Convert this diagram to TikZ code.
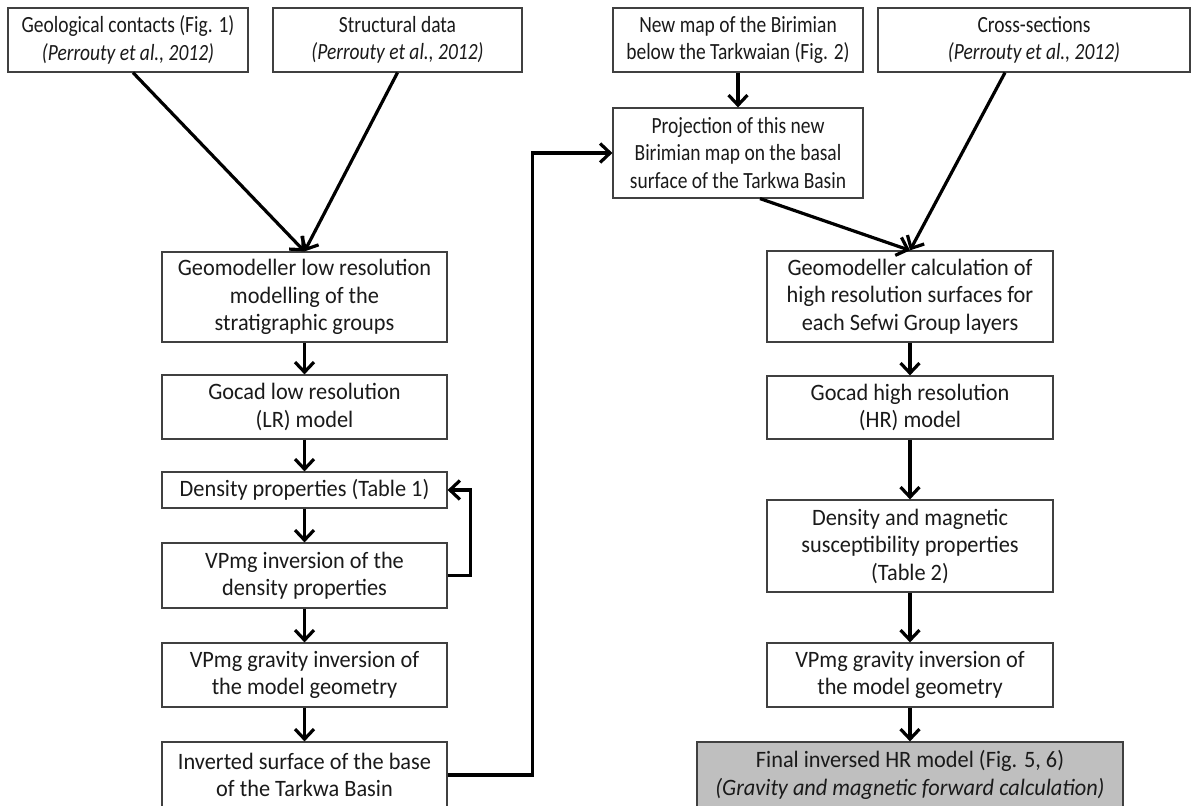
\documentclass[tikz,border=0pt]{standalone}
\usepackage{fontspec}
\setmainfont{Carlito}[FakeStretch=0.95]
\newfontfamily\narrowfont{Carlito}[FakeStretch=0.84]
\usetikzlibrary{arrows.meta,calc}
\definecolor{boxline}{HTML}{404040}
\definecolor{txt}{HTML}{1A1A1A}
\definecolor{finalfill}{HTML}{BFBFBF}
\tikzset{
  box/.style={draw=boxline, line width=1.2pt, fill=white, inner sep=0pt, align=center,
    text=txt, font=\fontsize{23.5}{27.5}\selectfont},
  topbox/.style={box, font=\narrowfont\fontsize{23.2}{27.5}\selectfont},
  lcol/.style={box, minimum width=285pt},
  rcol/.style={box, minimum width=286pt},
  arr/.style={draw=black, line width=3.2pt, -{Straight Barb[length=10pt,width=19pt,line width=3.2pt]}},
}
\begin{document}
\begin{tikzpicture}[x=1pt,y=-1pt]
\useasboundingbox (0,0) rectangle (1198,805);
\clip (0,0) rectangle (1198,805);
% top row
\node[topbox, minimum width=240pt, minimum height=64pt] (A) at (128,40) {Geological contacts (Fig. 1)\\\textit{(Perrouty et al., 2012)}};
\node[topbox, minimum width=249pt, minimum height=64pt] (B) at (397.5,40) {Structural data\\\textit{(Perrouty et al., 2012)}};
\node[topbox, minimum width=250pt, minimum height=64pt] (C) at (738,40) {New map of the Birimian\\below the Tarkwaian (Fig. 2)};
\node[topbox, minimum width=312pt, minimum height=64pt] (D) at (1034,40) {Cross-sections\\\textit{(Perrouty et al., 2012)}};
\node[topbox, minimum width=250pt, minimum height=90pt] (P) at (738,153) {Projection of this new\\Birimian map on the basal\\surface of the Tarkwa Basin};
% left column
\node[lcol, minimum height=90pt] (GLR) at (304.5,297) {Geomodeller low resolution\\modelling of the\\stratigraphic groups};
\node[lcol, minimum height=64pt] (GoLR) at (304.5,407) {Gocad low resolution\\(LR) model};
\node[lcol, minimum height=36pt] (Den) at (304.5,490) {Density properties (Table 1)};
\node[lcol, minimum height=65pt] (VPd) at (304.5,575.5) {VPmg inversion of the\\density properties};
\node[lcol, minimum height=64pt] (VPgL) at (304.5,675) {VPmg gravity inversion of\\the model geometry};
\node[lcol, minimum height=66pt] (Inv) at (304.5,775) {Inverted surface of the base\\of the Tarkwa Basin};
% right column
\node[rcol, minimum height=91pt] (GHR) at (910,296.5) {Geomodeller calculation of\\high resolution surfaces for\\each Sefwi Group layers};
\node[rcol, minimum height=63pt] (GoHR) at (910,407.5) {Gocad high resolution\\(HR) model};
\node[rcol, minimum height=92pt] (DenM) at (910,546) {Density and magnetic\\susceptibility properties\\(Table 2)};
\node[rcol, minimum height=64pt] (VPgR) at (910,675) {VPmg gravity inversion of\\the model geometry};
\node[box, fill=finalfill, minimum width=426pt, minimum height=66pt] (F) at (910,775) {Final inversed HR model (Fig. 5, 6)\\\textit{(Gravity and magnetic forward calculation)}};
% connectors
\draw[arr] ($(A.south)+(5,0)$) -- (GLR.north);
\draw[arr] (B.south) -- (GLR.north);
\draw[arr] (C.south) -- (P.north);
\draw[arr] ($(P.south)+(22,0)$) -- (GHR.north);
\draw[arr] ($(D.south)+(-29,0)$) -- (GHR.north);
\draw[arr] (GLR) -- (GoLR);
\draw[arr] (GoLR) -- (Den);
\draw[arr] (Den) -- (VPd);
\draw[arr] (VPd) -- (VPgL);
\draw[arr] (VPgL) -- (Inv);
\draw[arr] (VPd.east) -- ++(23,0) |- (Den.east);
\draw[arr] (Inv.east) -- ++(85,0) |- (P.west);
\draw[arr] (GHR) -- (GoHR);
\draw[arr] (GoHR) -- (DenM);
\draw[arr] (DenM) -- (VPgR);
\draw[arr] (VPgR) -- (F);
\end{tikzpicture}
\end{document}
